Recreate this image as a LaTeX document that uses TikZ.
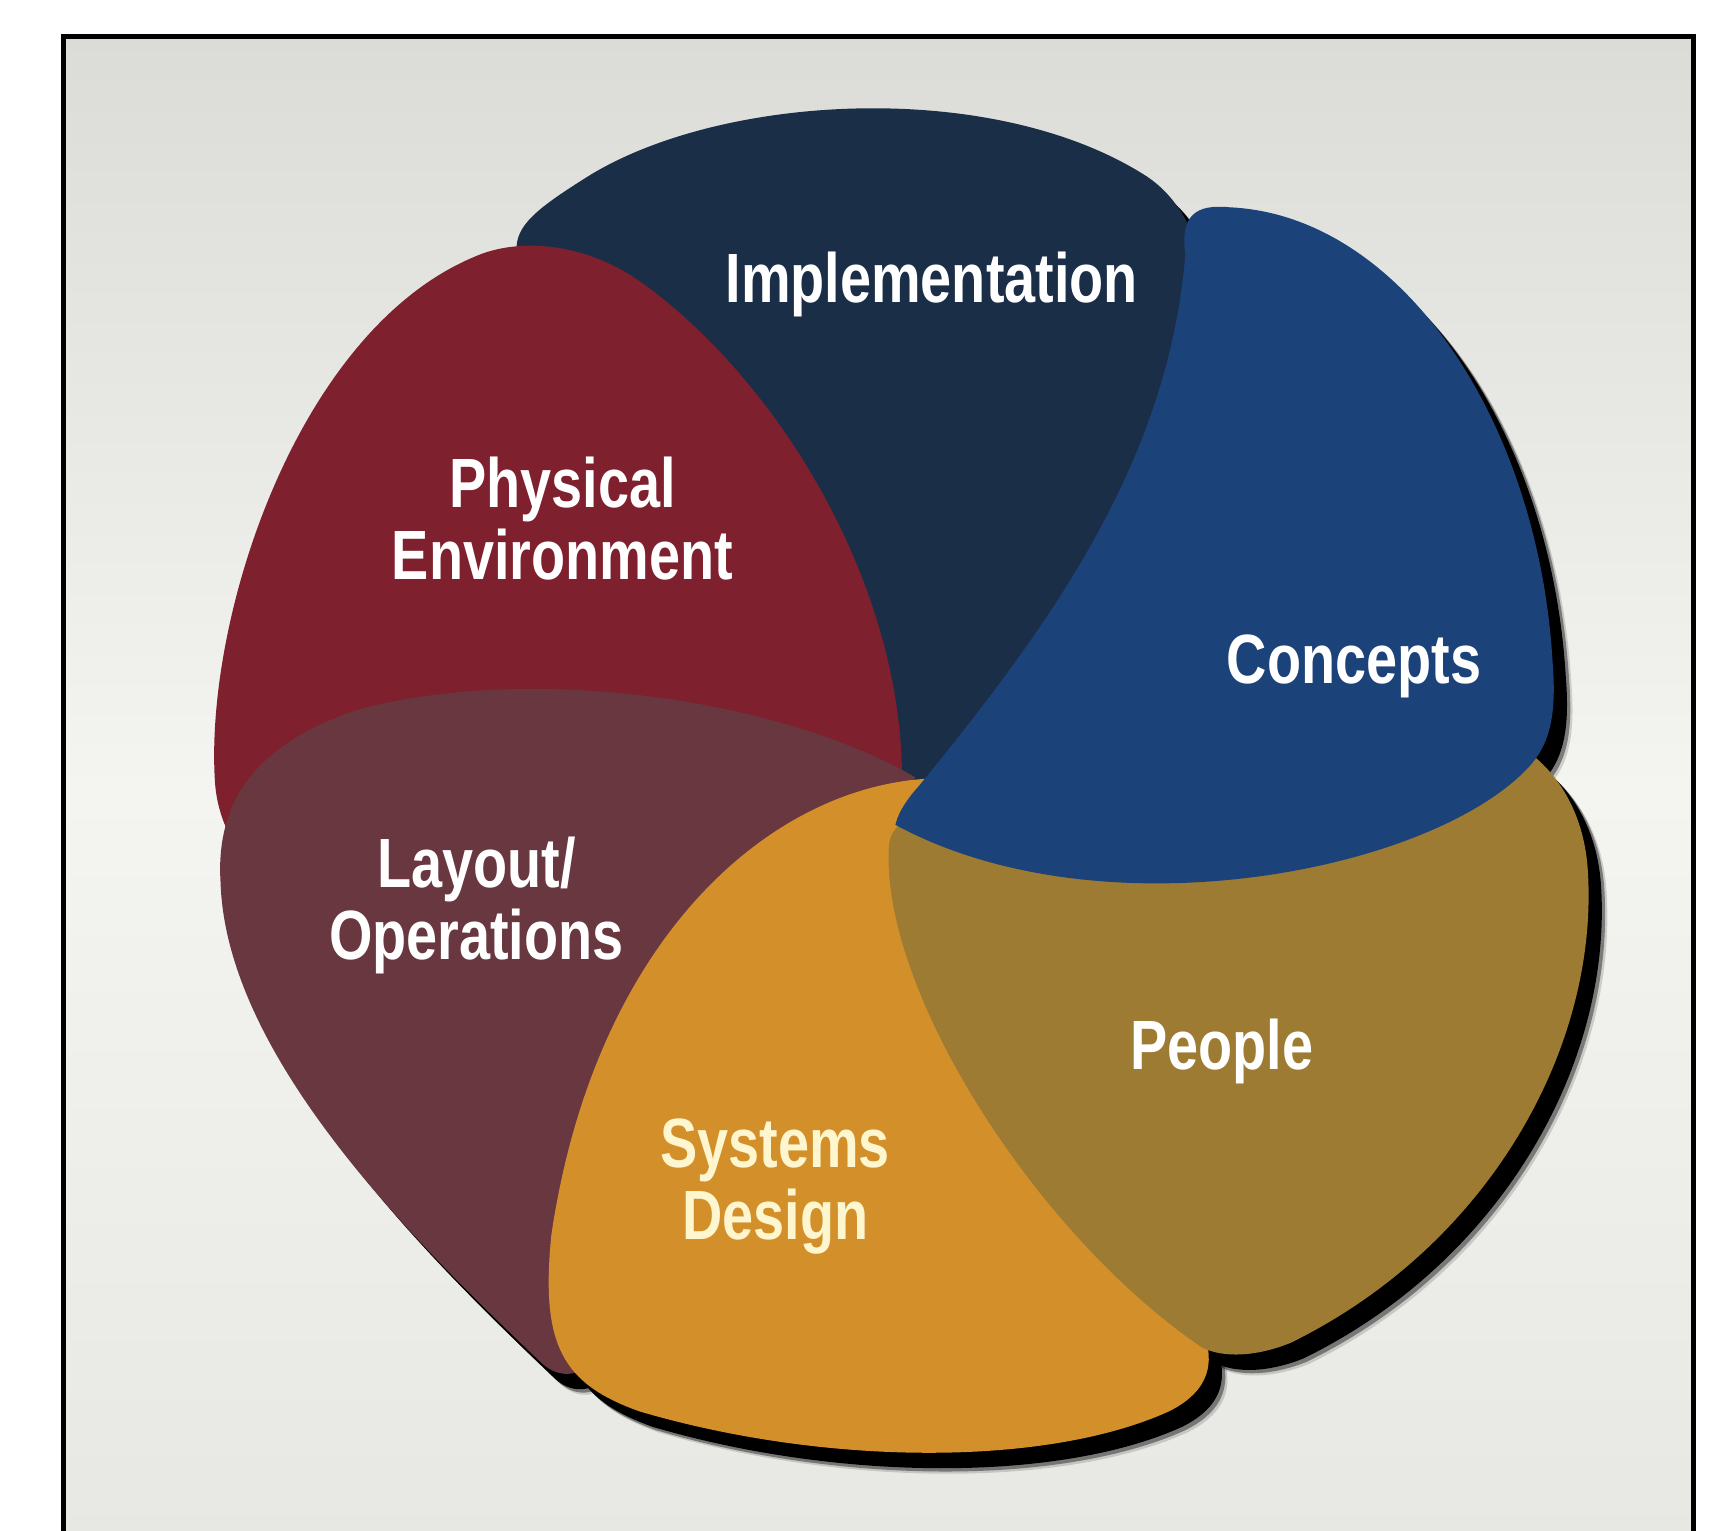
\documentclass[tikz,border=0pt]{standalone}
\usepackage{fontspec}
\newfontfamily\petalfont{Liberation Sans}[FakeStretch=0.8]
\usetikzlibrary{positioning}
\definecolor{bgtop}{RGB}{219,220,216}
\definecolor{bgmid}{RGB}{244,244,241}
\definecolor{bgbottom}{RGB}{231,231,227}
\definecolor{implnavy}{RGB}{27,46,72}
\definecolor{physred}{RGB}{126,32,45}
\definecolor{layoutbrown}{RGB}{105,55,64}
\definecolor{sysorange}{RGB}{211,144,42}
\definecolor{peopleolive}{RGB}{157,123,50}
\definecolor{conceptblue}{RGB}{27,66,121}
\definecolor{syscream}{RGB}{253,246,206}
\tikzset{petal/.style={fill=#1,draw=none}}
\tikzset{petallabel/.style={text=white,align=center,inner sep=0pt,
    font=\petalfont\bfseries\fontsize{18}{18.5}\selectfont}}
% petal outlines
\newcommand\navyoutline{(480,260) .. controls (455,215) and (470,200) .. (530,162)
  .. controls (650,85) and (900,70) .. (1040,160)
  .. controls (1100,200) and (1110,300) .. (1080,400)
  .. controls (1000,560) and (900,680) .. (825,735) -- (700,480) -- cycle}
\newcommand\redoutline{(195,710) .. controls (185,560) and (270,300) .. (430,233)
  .. controls (470,215) and (530,220) .. (580,255)
  .. controls (700,340) and (815,520) .. (818,700)
  -- (720,800) -- (260,800) .. controls (220,790) and (198,750) .. cycle}
\newcommand\brownoutline{(200,800) .. controls (195,720) and (240,670) .. (330,642)
  .. controls (500,600) and (720,640) .. (830,705)
  -- (700,900) -- (560,1200) .. controls (540,1250) and (510,1255) .. (490,1235)
  .. controls (380,1130) and (205,960) .. cycle}
\newcommand\orangeoutline{(845,706) .. controls (700,712) and (540,850) .. (500,1120)
  .. controls (490,1220) and (510,1255) .. (580,1280)
  .. controls (750,1330) and (950,1330) .. (1060,1280)
  .. controls (1090,1265) and (1100,1245) .. (1095,1220)
  .. controls (1050,1000) and (900,780) .. cycle}
\newcommand\oliveoutline{(850,735) .. controls (815,740) and (806,755) .. (806,770)
  .. controls (800,900) and (940,1120) .. (1090,1222)
  .. controls (1110,1232) and (1140,1230) .. (1170,1218)
  .. controls (1350,1130) and (1450,950) .. (1440,790)
  .. controls (1437,740) and (1415,705) .. (1390,685)
  .. controls (1200,700) and (1000,720) .. cycle}
\newcommand\blueoutline{(1075,230) .. controls (1070,195) and (1085,185) .. (1115,188)
  .. controls (1270,195) and (1395,380) .. (1408,600)
  .. controls (1412,650) and (1405,675) .. (1387,695)
  .. controls (1300,790) and (1000,850) .. (812,748)
  .. controls (815,735) and (825,722) .. (834,712)
  .. controls (950,570) and (1060,420) .. cycle}
\begin{document}
\begin{tikzpicture}[x=0.1mm,y=-0.1mm]
  \useasboundingbox (0,0) rectangle (1568,1388);
  \fill[white] (0,0) rectangle (1568,1388);
  \shade[top color=bgtop,bottom color=bgbottom,middle color=bgmid] (58,33) rectangle (1536,1400);
  \draw[line width=0.45mm] (58,33) rectangle (1536,1400);

  % drop shadows
  \foreach \p in {\navyoutline,\redoutline,\brownoutline,\orangeoutline,\oliveoutline,\blueoutline}{
    \fill[black,opacity=0.15,shift={(17,19)}] \p;
    \fill[black,opacity=0.4,shift={(15,17)}] \p;
    \fill[black,shift={(12,14)}] \p;
  }

  \fill[petal=implnavy] \navyoutline;
  \fill[petal=physred] \redoutline;
  \fill[petal=layoutbrown] \brownoutline;
  \fill[petal=sysorange] \orangeoutline;
  \fill[petal=peopleolive] \oliveoutline;
  \fill[petal=conceptblue] \blueoutline;

  \node[petallabel] (impl) at (845,258) {Implementation};
  \node[petallabel] (phys) at (510,470) {Physical\\Environment};
  \node[petallabel] (conc) at (1228,604) {Concepts};
  \node[petallabel] (layout) at (432,821) {Layout/\\Operations};
  \node[petallabel] (people) at (1108,954) {People};
  \node[petallabel,text=syscream] (sysdes) at (703,1076) {Systems\\Design};
\end{tikzpicture}
\end{document}
